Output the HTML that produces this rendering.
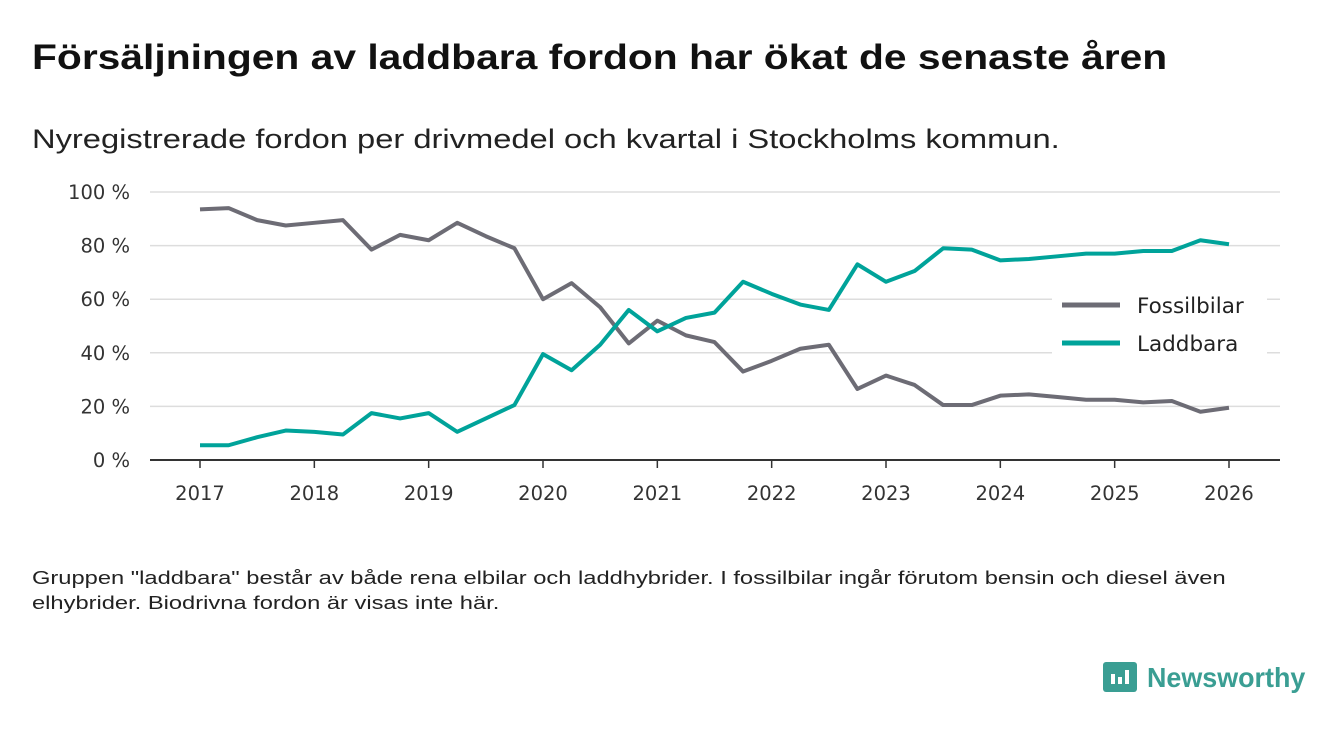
<!DOCTYPE html>
<html><head><meta charset="utf-8"><style>
body{margin:0;width:1340px;height:733px;background:#fff;font-family:"Liberation Sans",sans-serif;overflow:hidden;position:relative}
#title{position:absolute;left:32px;top:38px;font-size:35px;font-weight:bold;color:#111;margin:0;transform:scaleX(1.165);transform-origin:left top;white-space:nowrap}
#sub{position:absolute;left:32px;top:124px;font-size:27px;color:#222;transform:scaleX(1.21);transform-origin:left top;white-space:nowrap}
#note{position:absolute;left:32px;top:565px;font-size:18.5px;color:#222;line-height:25px;width:1000px;transform:scaleX(1.28);transform-origin:left top}
svg{position:absolute;left:0;top:0}
svg text{font-family:"DejaVu Sans",sans-serif}
</style></head><body>
<h1 id="title">Försäljningen av laddbara fordon har ökat de senaste åren</h1>
<div id="sub">Nyregistrerade fordon per drivmedel och kvartal i Stockholms kommun.</div>
<div id="note">Gruppen "laddbara" består av både rena elbilar och laddhybrider. I fossilbilar ingår förutom bensin och diesel även elhybrider. Biodrivna fordon är visas inte här.</div>
<svg id="chart" width="1340" height="733"></svg>
<div style="position:absolute;left:1103px;top:662px;width:34px;height:30px;background:#3a9e93;border-radius:3px">
<div style="position:absolute;left:8px;top:12px;width:4px;height:10px;background:#fff"></div>
<div style="position:absolute;left:15px;top:15px;width:4px;height:7px;background:#fff"></div>
<div style="position:absolute;left:22px;top:8px;width:4px;height:14px;background:#fff"></div>
</div>
<div style="position:absolute;left:1147px;top:662px;font-size:28px;font-weight:bold;color:#3a9e93;transform:scaleX(0.96);transform-origin:left top">Newsworthy</div>
<script>
const yTicks=[0,20,40,60,80,100];
const years=[2017,2018,2019,2020,2021,2022,2023,2024,2025,2026];
const fossil=[93.5,94,89.5,87.5,88.5,89.5,78.5,84,82,88.5,83.5,79,60,66,57,43.5,52,46.5,44,33,37,41.5,43,26.5,31.5,28,20.5,20.5,24,24.5,23.5,22.5,22.5,21.5,22,18,19.5];
const laddbara=[5.5,5.5,8.5,11,10.5,9.5,17.5,15.5,17.5,10.5,15.5,20.5,39.5,33.5,43,56,48,53,55,66.5,62,58,56,73,66.5,70.5,79,78.5,74.5,75,76,77,77,78,78,82,80.5];
const seriesNames=["Fossilbilar","Laddbara"];
const NS="http://www.w3.org/2000/svg";
const svg=document.getElementById('chart');
const x=t=>200+(1229-200)*t/36;
const y=v=>460-(460-192)*v/100;
function el(tag,a){const e=document.createElementNS(NS,tag);for(const k in a)e.setAttribute(k,a[k]);svg.appendChild(e);return e;}
yTicks.forEach(v=>{
 const g=el('line',{x1:150,x2:1280,y1:y(v),y2:y(v),stroke:'#ddd','stroke-width':1.5});
 
 
 const t=el('text',{x:130,y:y(v)+7,'text-anchor':'end','font-size':19.5,fill:'#333'});
 t.textContent=v+' %';
 
 
});
const ax=el('line',{x1:150,x2:1280,y1:460,y2:460,stroke:'#333','stroke-width':2});


years.forEach((yr,i)=>{
 const xx=x(i*4);
 const tk=el('line',{x1:xx,x2:xx,y1:460,y2:468,stroke:'#333','stroke-width':1.5});
 
 
 const t=el('text',{x:xx,y:500,'text-anchor':'middle','font-size':19.5,fill:'#333'});
 t.textContent=yr;
 
 
});
[[fossil,'#6d6c75'],[laddbara,'#00a39a']].forEach(([d,c],si)=>{
 const p=el('polyline',{points:d.map((v,i)=>x(i)+','+y(v)).join(' '),fill:'none',stroke:c,'stroke-width':4,'stroke-linejoin':'round'});
 
 
});
seriesNames.forEach((n,si)=>{
 const c=si?'#00a39a':'#6d6c75';
 const ly=305+si*38;
 const bg=el('rect',{x:1052,y:ly-18,width:215,height:36,fill:'#fff'});
 
 
 const l=el('line',{x1:1062,x2:1120,y1:ly,y2:ly,stroke:c,'stroke-width':5});
 
 
 const t=el('text',{x:1137,y:ly+8,'font-size':21.5,fill:'#222'});
 t.textContent=n;
 
 
});
</script>
</body></html>
